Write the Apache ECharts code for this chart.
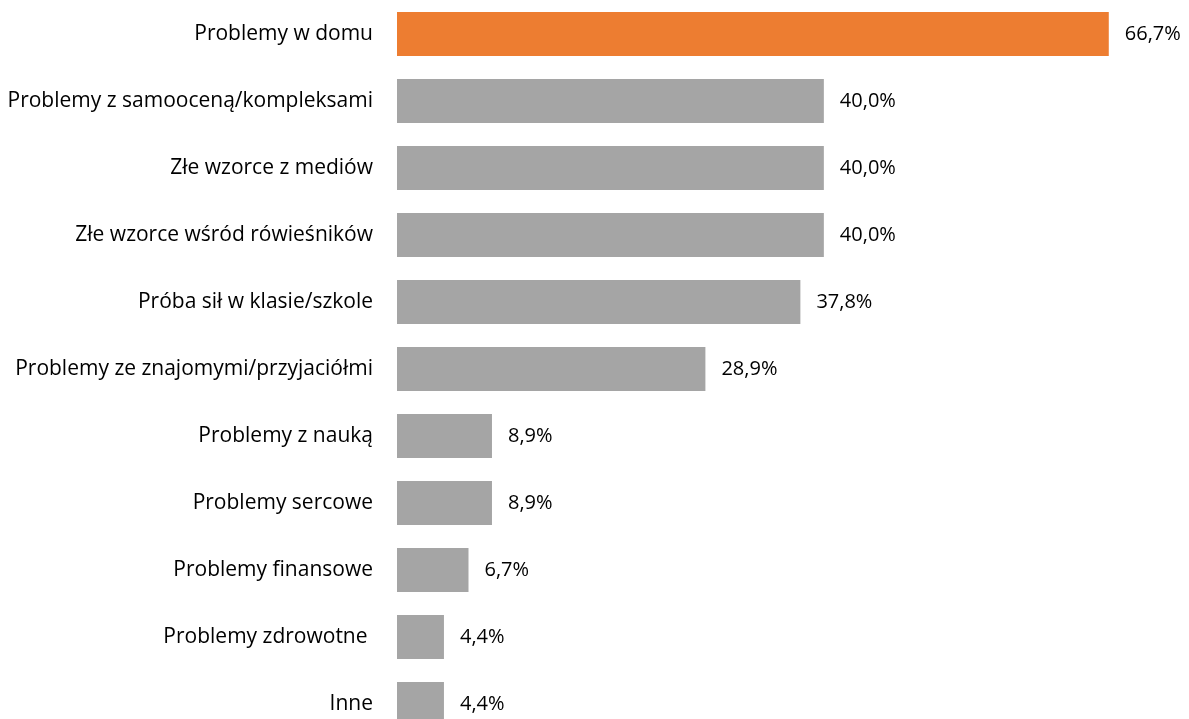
<!DOCTYPE html>
<html>
<head>
<meta charset="utf-8">
<script src="https://cdn.jsdelivr.net/npm/echarts@6/dist/echarts.min.js"></script>
<style>
html,body{margin:0;padding:0;background:#fff;}
#chart{width:1189px;height:719px;}
</style>
</head>
<body>
<div id="chart"></div>
<script>
const categories = [
  "Problemy w domu",
  "Problemy z samooceną/kompleksami",
  "Złe wzorce z mediów",
  "Złe wzorce wśród rówieśników",
  "Próba sił w klasie/szkole",
  "Problemy ze znajomymi/przyjaciółmi",
  "Problemy z nauką",
  "Problemy sercowe",
  "Problemy finansowe",
  "Problemy zdrowotne ",
  "Inne"
];
const values = [66.7, 40.0, 40.0, 40.0, 37.8, 28.9, 8.9, 8.9, 6.7, 4.4, 4.4];
const highlightIndex = 0;
const colorMain = "#A5A5A5";
const colorHighlight = "#ED7D31";

const chart = echarts.init(document.getElementById('chart'), null, {renderer: 'canvas'});
const font = "'Open Sans', sans-serif";
chart.setOption({
  animation: false,
  backgroundColor: '#ffffff',
  grid: {left: 397, top: 0.5, width: 747, height: 737, containLabel: false, outerBoundsMode: 'none'},
  xAxis: {
    type: 'value', min: 0, max: 70, show: false
  },
  yAxis: {
    type: 'category',
    data: categories,
    inverse: true,
    axisLine: {show: false},
    axisTick: {show: false},
    splitLine: {show: false},
    axisLabel: {
      margin: 24,
      color: '#000000',
      fontSize: 21,
      fontFamily: font,
      padding: [4, 0, 0, 0]
    }
  },
  series: [{
    type: 'bar',
    barWidth: 44,
    data: values.map((v, i) => ({
      value: v,
      itemStyle: {color: i === highlightIndex ? colorHighlight : colorMain}
    })),
    label: {
      show: true,
      position: 'right',
      distance: 16,
      color: '#000000',
      fontSize: 20,
      fontFamily: font,
      padding: [4, 0, 0, 0],
      formatter: p => p.value.toFixed(1).replace('.', ',') + '%'
    }
  }]
});
</script>
</body>
</html>
